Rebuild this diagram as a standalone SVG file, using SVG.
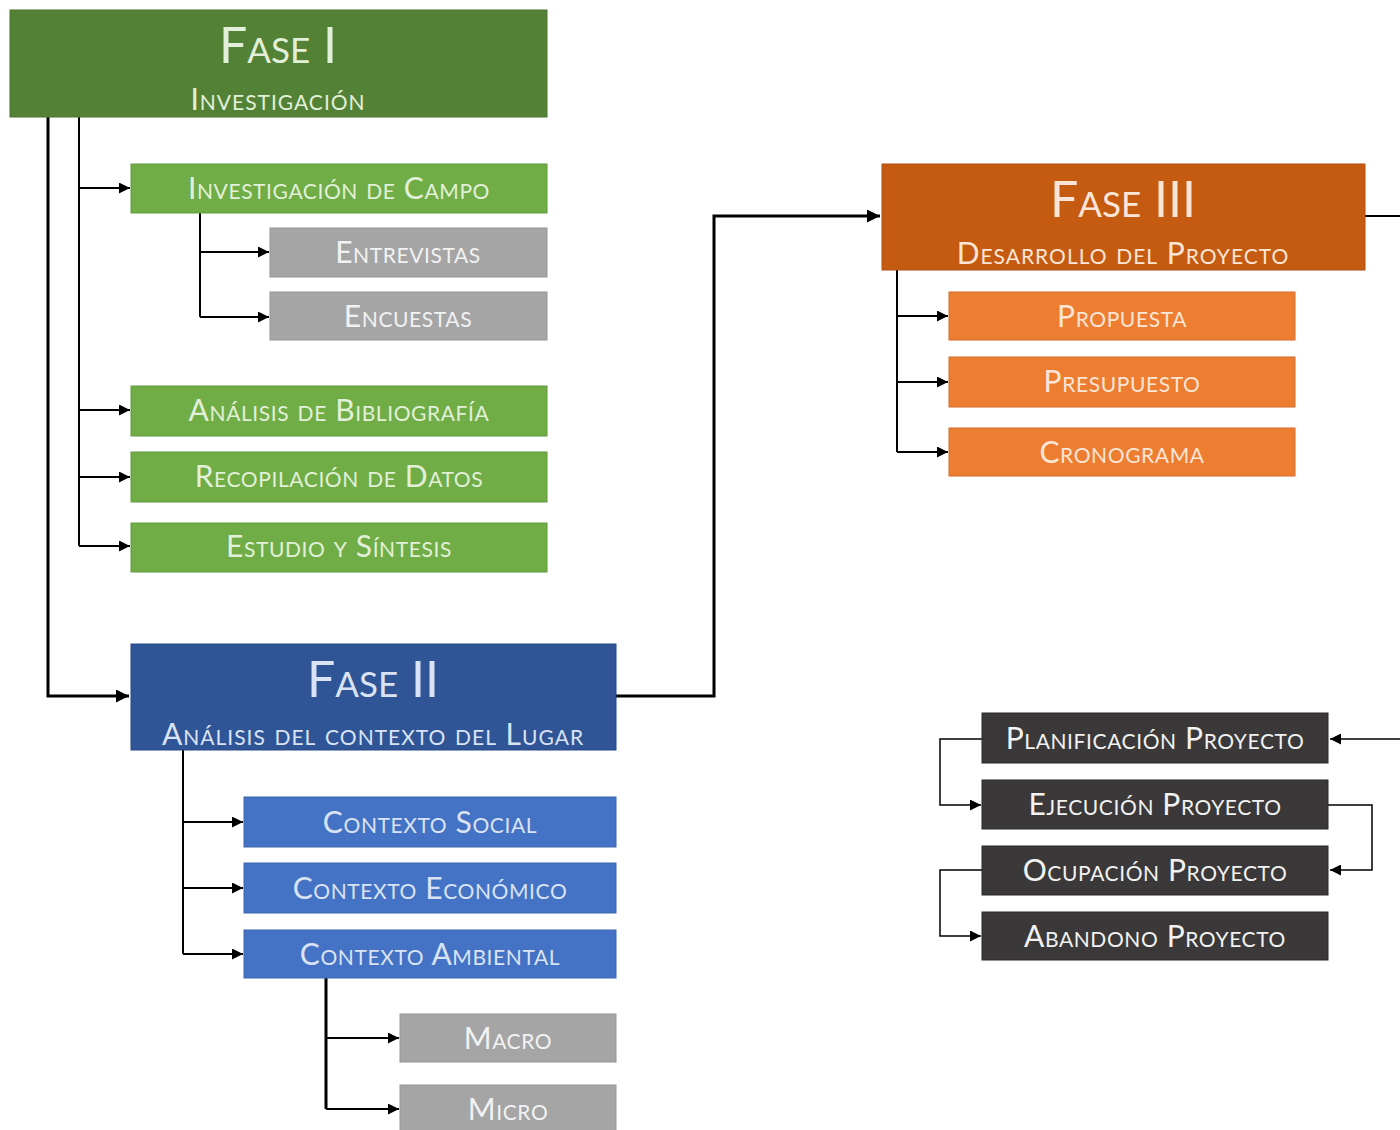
<svg xmlns="http://www.w3.org/2000/svg" width="1400" height="1130" viewBox="0 0 1400 1130">
<defs>
<marker id="ah" viewBox="0 0 10 10" refX="10" refY="5" markerWidth="11" markerHeight="11" markerUnits="userSpaceOnUse" orient="auto"><path d="M0,0 L10,5 L0,10 z" fill="#000"/></marker>
<marker id="ahs" viewBox="0 0 10 10" refX="10" refY="5" markerWidth="13" markerHeight="13" markerUnits="userSpaceOnUse" orient="auto"><path d="M0,0 L10,5 L0,10 z" fill="#000"/></marker>
</defs>
<style>
text{font-family:Lato,"Open Sans","DejaVu Sans",sans-serif;font-variant:small-caps;text-anchor:middle}
.t1{font-size:50px}
.t2{font-size:30px;letter-spacing:1px}
.t3{font-size:30px;letter-spacing:0.6px}
.g1{fill:#538135;stroke:#4a742f}
.g2{fill:#70ad47;stroke:#62993e}
.gy{fill:#a5a5a5;stroke:#959595}
.b1{fill:#2f5597;stroke:#294b85}
.b2{fill:#4472c4;stroke:#3d66b0}
.o1{fill:#c55a11;stroke:#b0500f}
.o2{fill:#ed7d31;stroke:#d46f2a}
.k{fill:#3a3838;stroke:#2a2828}
.tg{fill:#e2f0d9}
.tw{fill:#f2f2f2}
.tb{fill:#dae3f3}
.to{fill:#fbe5d6}
.c{fill:none;stroke:#000;stroke-width:2}
.cb{fill:none;stroke:#000;stroke-width:3}
.ct{fill:none;stroke:#000;stroke-width:1.5}
</style>
<rect width="1400" height="1130" fill="#fff"/>
<g id="connectors">
<path class="cb" d="M48,117 V696 H129" marker-end="url(#ahs)"/>
<path class="c" d="M79,117 V546"/>
<path class="c" d="M79,188 H130" marker-end="url(#ah)"/>
<path class="c" d="M79,410 H130" marker-end="url(#ah)"/>
<path class="c" d="M79,477 H130" marker-end="url(#ah)"/>
<path class="c" d="M79,546 H130" marker-end="url(#ah)"/>
<path class="c" d="M200,213 V317"/>
<path class="c" d="M200,252 H269" marker-end="url(#ah)"/>
<path class="c" d="M200,317 H269" marker-end="url(#ah)"/>
<path class="cb" d="M616,696 H714 V216 H880" marker-end="url(#ahs)"/>
<path class="c" d="M183,750 V954"/>
<path class="c" d="M183,822 H243" marker-end="url(#ah)"/>
<path class="c" d="M183,888 H243" marker-end="url(#ah)"/>
<path class="c" d="M183,954 H243" marker-end="url(#ah)"/>
<path class="cb" d="M326,978 V1109"/>
<path class="c" d="M326,1038 H399" marker-end="url(#ah)"/>
<path class="c" d="M326,1109 H399" marker-end="url(#ah)"/>
<path class="c" d="M897,270 V452"/>
<path class="c" d="M897,316 H948" marker-end="url(#ah)"/>
<path class="c" d="M897,382 H948" marker-end="url(#ah)"/>
<path class="c" d="M897,452 H948" marker-end="url(#ah)"/>
<path class="c" d="M1365,216 H1400"/>
<path class="ct" d="M1400,739 H1330" marker-end="url(#ah)"/>
<path class="ct" d="M982,739 H940 V805 H981" marker-end="url(#ah)"/>
<path class="ct" d="M1328,805 H1372 V870 H1330" marker-end="url(#ah)"/>
<path class="ct" d="M982,870 H940 V936 H981" marker-end="url(#ah)"/>
</g>
<g id="fase1"><rect class="g1" x="10" y="10" width="537" height="107"/><text class="t1 tg" x="278" y="63">Fase I</text><text class="t2 tg" x="278" y="110">Investigación</text></g>
<g id="campo"><rect class="g2" x="131" y="164" width="416" height="49"/><text class="t3 tg" x="339" y="199">Investigación de Campo</text></g>
<g id="entrevistas"><rect class="gy" x="270" y="228" width="277" height="49"/><text class="t3 tw" x="408" y="263">Entrevistas</text></g>
<g id="encuestas"><rect class="gy" x="270" y="292" width="277" height="48"/><text class="t3 tw" x="408" y="327">Encuestas</text></g>
<g id="bibliografia"><rect class="g2" x="131" y="386" width="416" height="50"/><text class="t3 tg" x="339" y="421">Análisis de Bibliografía</text></g>
<g id="datos"><rect class="g2" x="131" y="452" width="416" height="50"/><text class="t3 tg" x="339" y="487">Recopilación de Datos</text></g>
<g id="estudio"><rect class="g2" x="131" y="523" width="416" height="49"/><text class="t3 tg" x="339" y="557">Estudio y Síntesis</text></g>
<g id="fase2"><rect class="b1" x="131" y="644" width="485" height="106"/><text class="t1 tb" x="373" y="697">Fase II</text><text class="t2 tb" x="373" y="745">Análisis del contexto del Lugar</text></g>
<g id="social"><rect class="b2" x="244" y="797" width="372" height="50"/><text class="t3 tb" x="430" y="833">Contexto Social</text></g>
<g id="economico"><rect class="b2" x="244" y="863" width="372" height="50"/><text class="t3 tb" x="430" y="899">Contexto Económico</text></g>
<g id="ambiental"><rect class="b2" x="244" y="930" width="372" height="48"/><text class="t3 tb" x="430" y="965">Contexto Ambiental</text></g>
<g id="macro"><rect class="gy" x="400" y="1014" width="216" height="48"/><text class="t3 tw" x="508" y="1049">Macro</text></g>
<g id="micro"><rect class="gy" x="400" y="1085" width="216" height="50"/><text class="t3 tw" x="508" y="1120">Micro</text></g>
<g id="fase3"><rect class="o1" x="882" y="164" width="483" height="106"/><text class="t1 to" x="1123" y="217">Fase III</text><text class="t2 to" x="1123" y="264">Desarrollo del Proyecto</text></g>
<g id="propuesta"><rect class="o2" x="949" y="292" width="346" height="48"/><text class="t3 to" x="1122" y="327">Propuesta</text></g>
<g id="presupuesto"><rect class="o2" x="949" y="357" width="346" height="50"/><text class="t3 to" x="1122" y="392">Presupuesto</text></g>
<g id="cronograma"><rect class="o2" x="949" y="428" width="346" height="48"/><text class="t3 to" x="1122" y="463">Cronograma</text></g>
<g id="planificacion"><rect class="k" x="982" y="713" width="346" height="50"/><text class="t3 tw" x="1155" y="749">Planificación Proyecto</text></g>
<g id="ejecucion"><rect class="k" x="982" y="780" width="346" height="49"/><text class="t3 tw" x="1155" y="815">Ejecución Proyecto</text></g>
<g id="ocupacion"><rect class="k" x="982" y="846" width="346" height="49"/><text class="t3 tw" x="1155" y="881">Ocupación Proyecto</text></g>
<g id="abandono"><rect class="k" x="982" y="912" width="346" height="48"/><text class="t3 tw" x="1155" y="947">Abandono Proyecto</text></g>
</svg>
